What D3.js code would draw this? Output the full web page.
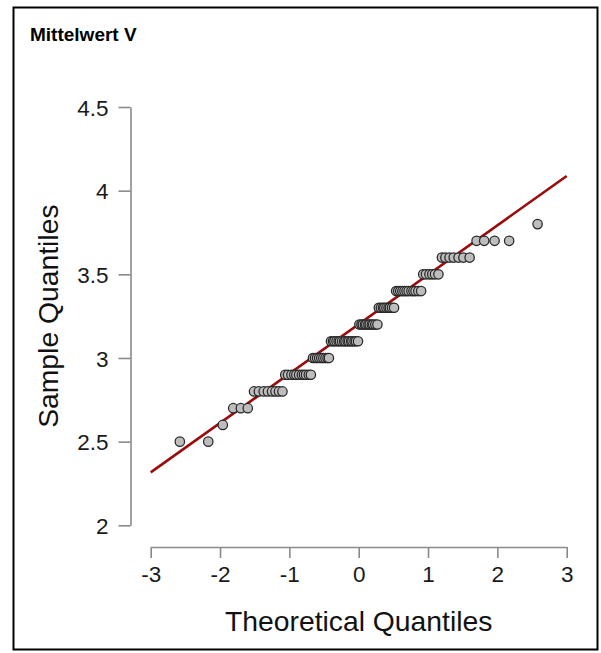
<!DOCTYPE html>
<html>
<head>
<meta charset="utf-8">
<script src="https://cdn.jsdelivr.net/npm/d3@7/dist/d3.min.js"></script>
<style>
  html, body { margin: 0; padding: 0; background: #fff; }
  svg { display: block; }
  text { font-family: "Liberation Sans", Arial, Helvetica, sans-serif; }
</style>
</head>
<body>
<svg id="chart" width="601" height="653"></svg>
<script>
const chartTitle = "Mittelwert V";
const xAxisTitle = "Theoretical Quantiles";
const yAxisTitle = "Sample Quantiles";

const theoreticalQuantiles = [
  -2.58, -2.17, -1.96, -1.81, -1.70, -1.60, -1.51, -1.44, -1.37, -1.31,
  -1.25, -1.20, -1.15, -1.10, -1.06, -1.02, -0.97, -0.93, -0.90, -0.86,
  -0.82, -0.79, -0.76, -0.72, -0.69, -0.66, -0.63, -0.60, -0.57, -0.54,
  -0.51, -0.48, -0.45, -0.43, -0.40, -0.37, -0.35, -0.32, -0.29, -0.27,
  -0.24, -0.21, -0.19, -0.16, -0.14, -0.11, -0.09, -0.06, -0.04, -0.01,
   0.01,  0.04,  0.06,  0.09,  0.11,  0.14,  0.16,  0.19,  0.21,  0.24,
   0.27,  0.29,  0.32,  0.35,  0.37,  0.40,  0.43,  0.45,  0.48,  0.51,
   0.54,  0.57,  0.60,  0.63,  0.66,  0.69,  0.72,  0.76,  0.79,  0.82,
   0.86,  0.90,  0.93,  0.97,  1.02,  1.06,  1.10,  1.15,  1.20,  1.25,
   1.31,  1.37,  1.44,  1.51,  1.60,  1.70,  1.81,  1.96,  2.17,  2.58
];

const sampleQuantiles = [
  2.5, 2.5,
  2.6,
  2.7, 2.7, 2.7,
  2.8, 2.8, 2.8, 2.8, 2.8, 2.8, 2.8, 2.8,
  2.9, 2.9, 2.9, 2.9, 2.9, 2.9, 2.9, 2.9, 2.9, 2.9, 2.9,
  3.0, 3.0, 3.0, 3.0, 3.0, 3.0, 3.0, 3.0, 3.0,
  3.1, 3.1, 3.1, 3.1, 3.1, 3.1, 3.1, 3.1, 3.1, 3.1, 3.1, 3.1, 3.1, 3.1, 3.1, 3.1,
  3.2, 3.2, 3.2, 3.2, 3.2, 3.2, 3.2, 3.2, 3.2, 3.2, 3.2,
  3.3, 3.3, 3.3, 3.3, 3.3, 3.3, 3.3, 3.3, 3.3,
  3.4, 3.4, 3.4, 3.4, 3.4, 3.4, 3.4, 3.4, 3.4, 3.4, 3.4, 3.4,
  3.5, 3.5, 3.5, 3.5, 3.5, 3.5,
  3.6, 3.6, 3.6, 3.6, 3.6, 3.6, 3.6,
  3.7, 3.7, 3.7, 3.7,
  3.8
];

const refLineX = [-3, 3];
const refLineY = [2.316, 4.088];

const xTicks = [-3, -2, -1, 0, 1, 2, 3];
const xTickLabels = ["-3", "-2", "-1", "0", "1", "2", "3"];
const yTicks = [2, 2.5, 3, 3.5, 4, 4.5];
const yTickLabels = ["2", "2.5", "3", "3.5", "4", "4.5"];

const svg = d3.select("#chart");

// outer frame
svg.append("rect")
  .attr("x", 13.5).attr("y", 7.5)
  .attr("width", 584).attr("height", 642)
  .attr("fill", "#fff").attr("stroke", "#000").attr("stroke-width", 2);

svg.append("text")
  .attr("x", 30).attr("y", 40.5)
  .attr("font-size", 19).attr("font-weight", "bold").attr("fill", "#000")
  .text(chartTitle);

const x = d3.scaleLinear().domain([-3, 3]).range([150.7, 566.7]);
const y = d3.scaleLinear().domain([2, 4.5]).range([525.3, 107]);

const axisColor = "#8a8a8a";

// y axis
const yAxisG = svg.append("g")
  .attr("transform", "translate(130.5,0)")
  .call(d3.axisLeft(y).tickValues(yTicks).tickFormat((d, i) => yTickLabels[i])
    .tickSizeInner(12).tickSizeOuter(0).tickPadding(10));
yAxisG.select(".domain").attr("stroke", axisColor).attr("stroke-width", 1.6);
yAxisG.selectAll(".tick line").attr("stroke", axisColor).attr("stroke-width", 1.6);
yAxisG.selectAll(".tick text")
  .attr("font-size", 22.5).attr("fill", "#1a1a1a")
  .attr("font-family", "Liberation Sans, Arial, sans-serif")
  .attr("dy", "0.36em");

// x axis
const xAxisG = svg.append("g")
  .attr("transform", "translate(0,547)")
  .call(d3.axisBottom(x).tickValues(xTicks).tickFormat((d, i) => xTickLabels[i])
    .tickSizeInner(11).tickSizeOuter(0).tickPadding(8));
xAxisG.select(".domain").attr("stroke", axisColor).attr("stroke-width", 1.6);
xAxisG.selectAll(".tick line").attr("stroke", axisColor).attr("stroke-width", 1.6);
xAxisG.selectAll(".tick text")
  .attr("font-size", 22.5).attr("fill", "#1a1a1a")
  .attr("font-family", "Liberation Sans, Arial, sans-serif")
  .attr("dy", "0.71em");

// axis titles
svg.append("text")
  .attr("x", (x(-3) + x(3)) / 2).attr("y", 630.5)
  .attr("text-anchor", "middle")
  .attr("font-size", 28.3).attr("fill", "#111")
  .text(xAxisTitle);

svg.append("text")
  .attr("transform", `translate(57.5,${(y(2) + y(4.5)) / 2}) rotate(-90)`)
  .attr("text-anchor", "middle")
  .attr("font-size", 28.3).attr("fill", "#111")
  .text(yAxisTitle);

// reference line (behind the points)
svg.append("line")
  .attr("x1", x(refLineX[0])).attr("y1", y(refLineY[0]))
  .attr("x2", x(refLineX[1])).attr("y2", y(refLineY[1]))
  .attr("stroke", "#9b0b0b").attr("stroke-width", 2.6);

// points
svg.append("g")
  .selectAll("circle")
  .data(theoreticalQuantiles.map((q, i) => ({ q, s: sampleQuantiles[i] })))
  .join("circle")
  .attr("cx", d => x(d.q))
  .attr("cy", d => y(d.s))
  .attr("r", 4.7)
  .attr("fill", "#bdbdbd")
  .attr("stroke", "#262626")
  .attr("stroke-width", 1.25);
</script>
</body>
</html>
